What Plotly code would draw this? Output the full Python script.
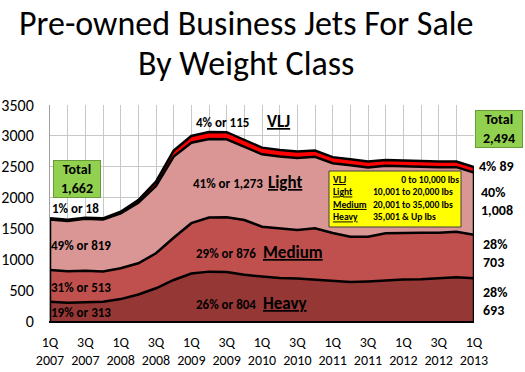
import plotly.graph_objects as go

quarters = ["1Q 2007", "2Q 2007", "3Q 2007", "4Q 2007",
            "1Q 2008", "2Q 2008", "3Q 2008", "4Q 2008",
            "1Q 2009", "2Q 2009", "3Q 2009", "4Q 2009",
            "1Q 2010", "2Q 2010", "3Q 2010", "4Q 2010",
            "1Q 2011", "2Q 2011", "3Q 2011", "4Q 2011",
            "1Q 2012", "2Q 2012", "3Q 2012", "4Q 2012",
            "1Q 2013"]

heavy = [313, 295, 305, 313, 355, 430, 530, 665, 770, 800, 795, 750, 720,
         695, 690, 670, 650, 630, 640, 660, 672, 678, 690, 710, 693]
medium = [513, 510, 510, 490, 500, 505, 567, 685, 815, 876, 885, 886, 808,
          807, 784, 832, 775, 736, 726, 760, 759, 753, 741, 737, 703]
light = [819, 817, 841, 840, 891, 980, 1090, 1315, 1303, 1273, 1265, 1185, 1173,
         1163, 1169, 1159, 1132, 1158, 1122, 1094, 1073, 1060, 1061, 1046, 1008]
vlj = [18, 18, 19, 20, 25, 45, 70, 95, 110, 115, 115, 112, 108,
       105, 102, 100, 98, 96, 95, 94, 93, 92, 91, 90, 89]

y_ticks = [0, 500, 1000, 1500, 2000, 2500, 3000, 3500]

legend_names = ["VLJ", "Light", "Medium", "Heavy"]
legend_ranges = ["0 to 10,000 lbs", "10,001 to 20,000 lbs",
                 "20,001 to 35,000 lbs", "35,001 & Up lbs"]

series = [("Heavy", heavy, "#953735"),
          ("Medium", medium, "#C0504D"),
          ("Light", light, "#D99694"),
          ("VLJ", vlj, "#FF0000")]

x = list(range(len(quarters)))
totals = [h + m + l + v for h, m, l, v in zip(heavy, medium, light, vlj)]
ticktext = [q.replace(" ", "<br>") if i % 2 == 0 else "" for i, q in enumerate(quarters)]

FONT = "Calibri, Carlito, Lato, sans-serif"

fig = go.Figure()
for name, vals, col in series:
    fig.add_trace(go.Scatter(
        x=x, y=vals, name=name, stackgroup="one", mode="lines",
        line=dict(color="black", width=2.5), fillcolor=col,
        hoverinfo="skip", showlegend=False))

# vertical outline edges of the stacked area
for idx in (0, len(x) - 1):
    fig.add_trace(go.Scatter(x=[x[idx], x[idx]], y=[0, totals[idx]], mode="lines",
                             line=dict(color="black", width=2.5),
                             hoverinfo="skip", showlegend=False))

L, R, T, B = 50, 51, 105, 51
W, H = 525, 372
PW, PH = W - L - R, H - T - B


def px(xp):
    return (xp - L) / PW


def py(yp):
    return (H - B - yp) / PH


ann = []


def text(t, xp, yp, size=13, bold=True, xanchor="center", **kw):
    s = f"<b>{t}</b>" if bold else t
    ann.append(dict(text=s, x=px(xp), y=py(yp), xref="paper", yref="paper",
                    xanchor=xanchor, yanchor="middle", showarrow=False,
                    font=dict(family=FONT, size=size, color="black"), **kw))


# title
text("Pre-owned Business Jets For Sale", 246, 23, size=34, bold=False)
text("By Weight Class", 246, 63, size=34, bold=False)

# left labels
text("Total<br>1,662", 76.5, 179, size=14, bgcolor="#92D050", bordercolor="#6A9A3A",
     borderwidth=1, width=44, height=34, align="center")
text("1% or 18", 50, 208, xanchor="left")
text("49% or 819", 49, 245, xanchor="left")
text("31% or 513", 49, 287, xanchor="left")
text("19% or 313", 49, 312, xanchor="left")

# middle labels
text("4% or 115", 251, 122, xanchor="right")
text("<u>VLJ</u>", 265, 121, size=17, xanchor="left")
text("41% or 1,273", 265, 183, xanchor="right")
text("<u>Light</u>", 266, 182, size=17, xanchor="left")
text("29% or 876", 258, 253, xanchor="right")
text("<u>Medium</u>", 261, 252, size=17, xanchor="left")
text("26% or 804", 258, 304, xanchor="right")
text("<u>Heavy</u>", 261, 303, size=17, xanchor="left")

# legend box
shapes = [dict(type="rect", xref="paper", yref="paper",
               x0=px(329), x1=px(461), y0=py(227), y1=py(171),
               fillcolor="#FFFF00", line=dict(color="#404040", width=1))]
LS = 9.6
text("<br>".join(f"<u>{n}</u>" for n in legend_names), 332, 198.5, size=LS,
     xanchor="left", align="left", borderpad=0)
value_lines = ["&nbsp;" * 13 + legend_ranges[0]] + legend_ranges[1:]
text("<br>".join(value_lines), 372, 198.5, size=LS, xanchor="left",
     align="left", borderpad=0)

# right labels
text("Total<br>2,494", 498.5, 129, size=14, bgcolor="#92D050", bordercolor="#6A9A3A",
     borderwidth=1, width=44, height=34, align="center")
text("4% 89", 477, 166, size=14, xanchor="left")
text("40%<br>1,008", 479, 201, size=14, xanchor="left", align="left")
text("28%<br>703", 481, 253, size=14, xanchor="left", align="left")
text("28%<br>693", 481, 301, size=14, xanchor="left", align="left")

fig.update_layout(
    width=W, height=H, margin=dict(l=L, r=R, t=T, b=B, pad=0, autoexpand=False),
    paper_bgcolor="white", plot_bgcolor="white",
    font=dict(family=FONT, size=16, color="black"),
    annotations=ann, shapes=shapes, showlegend=False,
    xaxis=dict(range=[0, len(x) - 1], tickvals=x, ticktext=ticktext,
               showgrid=True, gridcolor="#C8C8C8", gridwidth=1,
               showline=True, linecolor="black", linewidth=1.5,
               ticks="", tickfont=dict(size=14, family=FONT), ticklabelstandoff=7,
               tickangle=0, zeroline=False, fixedrange=True, automargin=False),
    yaxis=dict(range=[0, 3500], tickvals=y_ticks,
               showgrid=True, gridcolor="#C8C8C8", gridwidth=1,
               showline=True, linecolor="#A0A0A0", linewidth=1,
               ticks="", tickfont=dict(size=16, family=FONT), ticklabelstandoff=12,
               zeroline=False, fixedrange=True, automargin=False),
)

fig.write_html("out.html", config={"displayModeBar": False},
               post_script="document.body.style.margin='0';document.body.style.overflow='hidden';")
